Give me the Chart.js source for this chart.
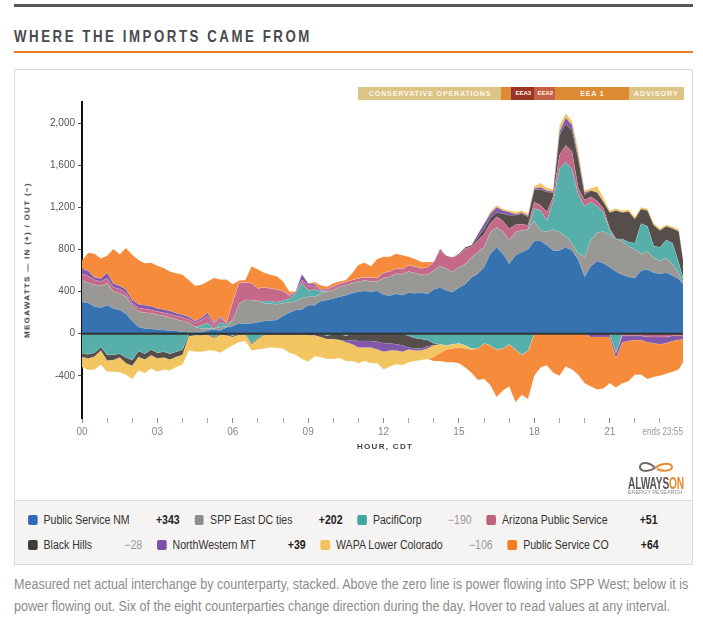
<!DOCTYPE html>
<html><head><meta charset="utf-8">
<script src="https://cdn.jsdelivr.net/npm/chart.js@4.4.1/dist/chart.umd.min.js"></script>
<style>
html,body{margin:0;padding:0;background:#fff;}
body{width:703px;height:627px;position:relative;overflow:hidden;font-family:"Liberation Sans",Arial,sans-serif;}
#topRule{position:absolute;left:14px;top:4px;width:679px;height:3px;background:#58585a;}
#title{position:absolute;left:14px;top:28px;line-height:16px;font-weight:bold;font-size:16.5px;letter-spacing:3.15px;color:#4a4a4c;white-space:nowrap;transform:scaleX(0.805);transform-origin:0 50%;}
#orangeRule{position:absolute;left:14px;top:51px;width:679px;height:2px;background:#ec7a26;}
#box{position:absolute;left:14px;top:69px;width:677px;height:494px;border:1px solid #dcdcdc;background:#fff;}
#chartWrap{position:absolute;left:0;top:0;width:677px;height:430px;}
#legend{position:absolute;left:0;top:430px;width:677px;height:64px;background:#f5f4f2;border-top:1px solid #dcdcdc;box-sizing:border-box;}
.lrow{position:absolute;left:13px;height:16px;display:flex;align-items:center;white-space:nowrap;transform:scaleX(0.878);transform-origin:0 50%;}
.litem{display:flex;align-items:center;margin-right:17px;}
.sw{width:10.5px;height:10px;border-radius:2px;margin-right:7.2px;}
.lname{font-size:12px;color:#333;}
.lval{width:57px;text-align:right;font-size:12px;}
.pos{color:#222;font-weight:bold;}
.neg{color:#9a9a9a;}
#caption{position:absolute;left:14px;top:573px;font-size:14px;line-height:22px;color:#8c8c8c;white-space:nowrap;transform:scaleX(0.896);transform-origin:0 0;}
#ytitle{position:absolute;left:27px;top:260px;transform:translate(-50%,-50%) rotate(-90deg);font-size:8px;font-weight:bold;letter-spacing:1.3px;color:#333;white-space:nowrap;}
#xtitle{position:absolute;left:357px;top:442px;font-size:8px;font-weight:bold;letter-spacing:1.3px;color:#444;white-space:nowrap;}
#ends{position:absolute;left:583px;width:100px;top:426px;text-align:right;font-size:10px;color:#9a9a9a;transform:scaleX(0.82);transform-origin:100% 0;}
.sbar{position:absolute;top:17px;height:13px;line-height:13px;text-align:center;color:#fff7ea;font-weight:bold;font-size:7px;letter-spacing:0.9px;white-space:nowrap;overflow:hidden;}
#logo{position:absolute;left:636px;top:460px;width:40px;height:18px;}
#logoText{position:absolute;left:628px;top:476px;font-weight:bold;font-size:17px;letter-spacing:-0.3px;color:#5b5756;line-height:15px;white-space:nowrap;transform:scaleX(0.6);transform-origin:0 0;}
#logoSub{position:absolute;left:628px;top:489px;font-size:6px;color:#8a8a8a;line-height:7px;white-space:nowrap;transform:scaleX(0.9);transform-origin:0 0;}
</style>
</head>
<body>
<div id="topRule"></div>
<div id="title">WHERE THE IMPORTS CAME FROM</div>
<div id="orangeRule"></div>
<div id="box">
  <div id="chartWrap"><canvas id="c" width="677" height="430"></canvas></div>
  <div id="legend"></div>
</div>
<div id="ends">ends 23:55</div>
<div id="xtitle">HOUR, CDT</div>
<svg id="logo" viewBox="0 0 40 18"><path d="M19 8 C 14 2, 4 1, 4 7 C 4 12, 13 12, 19 8" fill="none" stroke="#6d6a69" stroke-width="2"/><path d="M19 8 C 25 3, 36 2, 36 7 C 36 11, 27 12, 21 9" fill="none" stroke="#e8892f" stroke-width="2"/></svg>
<div id="logoText">ALWAYS<span style="color:#e8892f">ON</span></div>
<div id="logoSub">ENERGY RESEARCH</div>
<div id="ytitle">MEGAWATTS — IN (+) / OUT (−)</div>
<div id="caption">Measured net actual interchange by counterparty, stacked. Above the zero line is power flowing into SPP West; below it is<br>power flowing out. Six of the eight counterparties change direction during the day. Hover to read values at any interval.</div>
<script>
// ---- categories: 15-minute intervals, last point 23:55 (minutes after midnight)
const minutes = Array.from({length: 96}, (_, i) => i * 15).concat([1435]);
const seriesNames = ['Public Service NM','SPP East DC ties','PacifiCorp','Arizona Public Service','Black Hills','NorthWestern MT','WAPA Lower Colorado','Public Service CO'];
const legendValues = ['+343','+202','\u2212190','+51','\u221228','+39','\u2212106','+64'];
const hourTicks = [0,1,2,3,4,5,6,7,8,9,10,11,12,13,14,15,16,17,18,19,20,21,22,23];
const yTicks = [-400,0,400,800,1200,1600,2000];
// ---- series values, MW (+ in, - out)
const publicServiceNM = [300,295,255,250,270,240,225,190,120,65,50,45,40,35,30,25,20,15,15,15,30,40,30,60,70,100,95,100,110,120,125,130,170,200,225,230,270,270,310,320,335,350,365,385,400,405,400,405,370,360,380,365,390,385,390,380,420,440,410,395,440,470,535,570,630,760,820,760,665,745,775,800,880,880,840,790,790,820,790,700,540,640,690,670,630,590,560,540,530,600,610,580,570,580,550,520,470];
const sppEastDC = [210,185,210,205,210,160,160,160,140,145,150,150,140,135,125,110,100,90,50,35,20,10,35,10,60,185,225,220,200,170,160,150,120,100,80,110,80,80,70,80,80,95,95,95,95,100,95,90,160,180,190,200,200,190,170,180,180,200,210,190,190,190,190,205,190,200,190,210,220,220,205,190,190,100,125,200,175,100,70,60,190,250,270,300,310,310,320,290,270,160,170,140,120,140,110,50,20];
const pacifiCorp = [-190,-195,-180,-125,-200,-200,-190,-225,-250,-165,-190,-150,-180,-170,-190,-170,-150,-5,0,30,50,-30,40,20,-20,0,0,-90,-40,20,25,20,25,30,80,140,60,70,20,-20,0,0,-20,0,0,0,0,0,0,0,0,0,-20,-40,-50,-60,-90,-100,-110,-100,-90,-110,-140,-140,-90,-110,-150,-140,-100,-150,-200,-160,120,190,110,270,600,710,700,560,480,360,250,180,40,-180,20,40,60,285,240,110,130,170,200,100,40];
const arizonaPS = [60,65,45,40,45,40,40,35,30,35,35,30,30,30,30,35,35,30,40,50,70,30,50,15,170,200,165,160,120,130,120,120,90,30,15,30,50,30,10,15,30,30,30,30,30,30,40,35,50,50,50,50,60,60,60,70,80,150,120,140,120,150,100,110,125,90,100,100,110,70,60,40,60,50,80,40,130,160,170,60,60,50,50,40,20,0,-20,-20,-20,-20,-30,-30,-30,-30,-20,-20,-20];
const blackHills = [-30,-40,-35,-35,-55,-50,-35,-55,-55,-55,-55,-55,-55,-55,-55,-50,-50,-20,-15,-15,-10,-10,-10,-15,-10,-10,-10,-10,-10,-10,-10,-10,-10,-10,-10,-10,-15,-15,-30,-30,-50,-60,-50,-60,-70,-70,-70,-75,-90,-90,-100,-110,-110,-100,-90,-60,-20,15,0,0,10,10,15,30,50,50,40,70,130,90,100,80,120,150,190,40,190,200,200,280,50,60,80,60,150,270,250,290,230,140,150,200,160,130,140,300,170];
const northWesternMT = [50,50,25,30,55,35,30,35,30,35,35,35,30,30,30,25,25,25,15,20,30,20,10,0,0,0,0,0,0,0,0,0,0,10,0,55,20,20,10,10,5,0,-10,-40,-60,-60,-60,-75,-80,-70,-60,-60,-20,-20,-20,-20,0,0,0,0,0,0,0,30,50,40,50,30,30,10,10,10,10,20,15,10,30,60,50,20,20,-30,-30,-30,-30,-50,-60,-50,-40,-40,-50,-60,-70,-60,-50,-40,-30];
const wapaLowerCO = [-95,-110,-125,-135,-105,-110,-140,-110,-125,-130,-130,-125,-125,-115,-105,-95,-95,-135,-155,-155,-150,-120,-170,-130,-80,-70,-60,-60,-100,-130,-120,-125,-130,-170,-190,-230,-250,-200,-190,-190,-190,-170,-180,-160,-150,-130,-150,-130,-170,-150,-130,-130,-120,-100,-90,-100,-110,-80,-40,-40,-40,-30,-10,0,0,20,20,15,15,20,20,20,20,40,25,20,60,40,40,60,20,20,60,40,20,20,20,20,20,15,20,20,20,15,15,20,15];
const publicServiceCO = [75,175,225,190,160,330,300,395,430,420,400,415,405,395,375,380,380,350,335,315,295,430,350,410,170,20,25,160,180,140,130,125,90,30,0,0,0,20,40,20,30,20,20,65,130,140,105,180,150,140,140,130,80,75,60,50,-40,-80,-120,-130,-150,-180,-220,-300,-340,-380,-450,-400,-400,-500,-380,-460,-400,-320,-300,-370,-400,-310,-340,-390,-470,-470,-500,-490,-440,-280,-390,-380,-330,-330,-350,-320,-300,-290,-290,-280,-220];
// ---- grid-operations status bar (clock minutes)
const statusLabels = ['CONSERVATIVE OPERATIONS','','EEA3','EEA2','EEA 1','ADVISORY'];
const statusStart = [660,1000,1025,1080,1130,1305];
const statusEnd = [1000,1025,1080,1130,1305,1435];

// ---- styles
const seriesColors = ['#3572af','#9a9894','#56b0a9','#c5698b','#554e4b','#8358a9','#f3c560','#f68b3b'];
const swatchColors = ['#2f6cb3','#8e8e8c','#3fa79d','#c0647c','#3b3b3b','#7b52a8','#f2c15a','#f57d25'];
const statusColors = ['#dcc486','#dd8a34','#9c3426','#c55f48','#dd8a34','#dcc486'];
const statusFont = [7,7,6,6,7,7.3];

const allSeries = [publicServiceNM, sppEastDC, pacifiCorp, arizonaPS, blackHills, northWesternMT, wapaLowerCO, publicServiceCO];

// build stacked (diverging) layers
const datasets = [];
function buildSide(sign) {
  let acc = minutes.map(() => 0);
  allSeries.forEach((s, k) => {
    acc = acc.map((a, i) => a + (sign > 0 ? Math.max(s[i], 0) : Math.min(s[i], 0)));
    datasets.push({
      label: seriesNames[k] + (sign > 0 ? ' (in)' : ' (out)'),
      data: acc.map((y, i) => ({x: minutes[i] / 60, y})),
      backgroundColor: seriesColors[k],
      borderColor: 'rgba(255,255,255,0.22)',
      borderWidth: 0.5,
      fill: k === 0 ? 'origin' : '-1',
      pointRadius: 0,
      tension: 0
    });
  });
}
buildSide(1);
buildSide(-1);

const zeroLine = {
  id: 'zeroLine',
  afterDatasetsDraw(chart) {
    const {ctx, chartArea, scales} = chart;
    const y = scales.y.getPixelForValue(0);
    ctx.save();
    ctx.strokeStyle = '#333';
    ctx.lineWidth = 2;
    ctx.beginPath();
    ctx.moveTo(chartArea.left, y);
    ctx.lineTo(chartArea.right, y);
    ctx.stroke();
    ctx.restore();
  }
};

const chart = new Chart(document.getElementById('c'), {
  type: 'line',
  data: {datasets},
  plugins: [zeroLine],
  options: {
    responsive: false,
    animation: false,
    devicePixelRatio: 1,
    layout: {padding: {left: 0, right: 9, top: 32, bottom: 52}},
    plugins: {legend: {display: false}, tooltip: {enabled: false}, filler: {propagate: false}},
    elements: {line: {borderJoinStyle: 'round'}},
    scales: {
      x: {
        type: 'linear', min: 0, max: 1435 / 60,
        afterBuildTicks: s => { s.ticks = hourTicks.map(v => ({value: v})); },
        afterFit: s => { s.height = 30; },
        ticks: {
          autoSkip: false, maxRotation: 0, padding: 3,
          color: '#7f8896',
          font: {family: '"Liberation Sans",Arial,sans-serif', size: 10},
          callback: v => (v % 3 === 0 ? String(v).padStart(2, '0') : '')
        },
        grid: {drawOnChartArea: false, tickLength: 5, tickWidth: 1,
               tickColor: c => (c.tick && c.tick.value % 3 === 0 ? '#8a8a8a' : '#a8a8a8')},
        border: {display: false}
      },
      y: {
        min: -800, max: 2200,
        afterBuildTicks: s => { s.ticks = yTicks.map(v => ({value: v})); },
        afterFit: s => { s.width = 67; },
        ticks: {
          padding: 3, color: '#555',
          font: {family: '"Liberation Sans",Arial,sans-serif', size: 10},
          callback: v => v.toLocaleString('en-US')
        },
        grid: {drawOnChartArea: false, tickLength: 4, tickColor: '#555'},
        border: {display: true, color: '#111', width: 2}
      }
    }
  }
});

// status bar aligned to the time axis
const box = document.getElementById('box');
statusLabels.forEach((lab, i) => {
  const x0 = chart.scales.x.getPixelForValue(statusStart[i] / 60);
  const x1 = chart.scales.x.getPixelForValue(statusEnd[i] / 60);
  const d = document.createElement('div');
  d.className = 'sbar';
  d.style.left = x0 + 'px';
  d.style.width = (x1 - x0 + 1) + 'px';
  d.style.background = statusColors[i];
  d.style.fontSize = statusFont[i] + 'px';
  if (i === 2 || i === 3) d.style.letterSpacing = '0px';
  d.textContent = lab;
  box.appendChild(d);
});

// HTML legend
const legend = document.getElementById('legend');
const rows = [[0,1,2,3],[4,5,6,7]];
rows.forEach((r, ri) => {
  const row = document.createElement('div');
  row.className = 'lrow';
  row.style.top = (ri === 0 ? 11 : 36) + 'px';
  r.forEach(k => {
    const it = document.createElement('div');
    it.className = 'litem';
    const sw = document.createElement('div');
    sw.className = 'sw'; sw.style.background = swatchColors[k];
    const nm = document.createElement('span');
    nm.className = 'lname'; nm.textContent = seriesNames[k];
    const vl = document.createElement('span');
    vl.className = 'lval ' + (legendValues[k][0] === '+' ? 'pos' : 'neg');
    vl.textContent = legendValues[k];
    it.appendChild(sw); it.appendChild(nm); it.appendChild(vl);
    row.appendChild(it);
  });
  legend.appendChild(row);
});
</script>
</body></html>
